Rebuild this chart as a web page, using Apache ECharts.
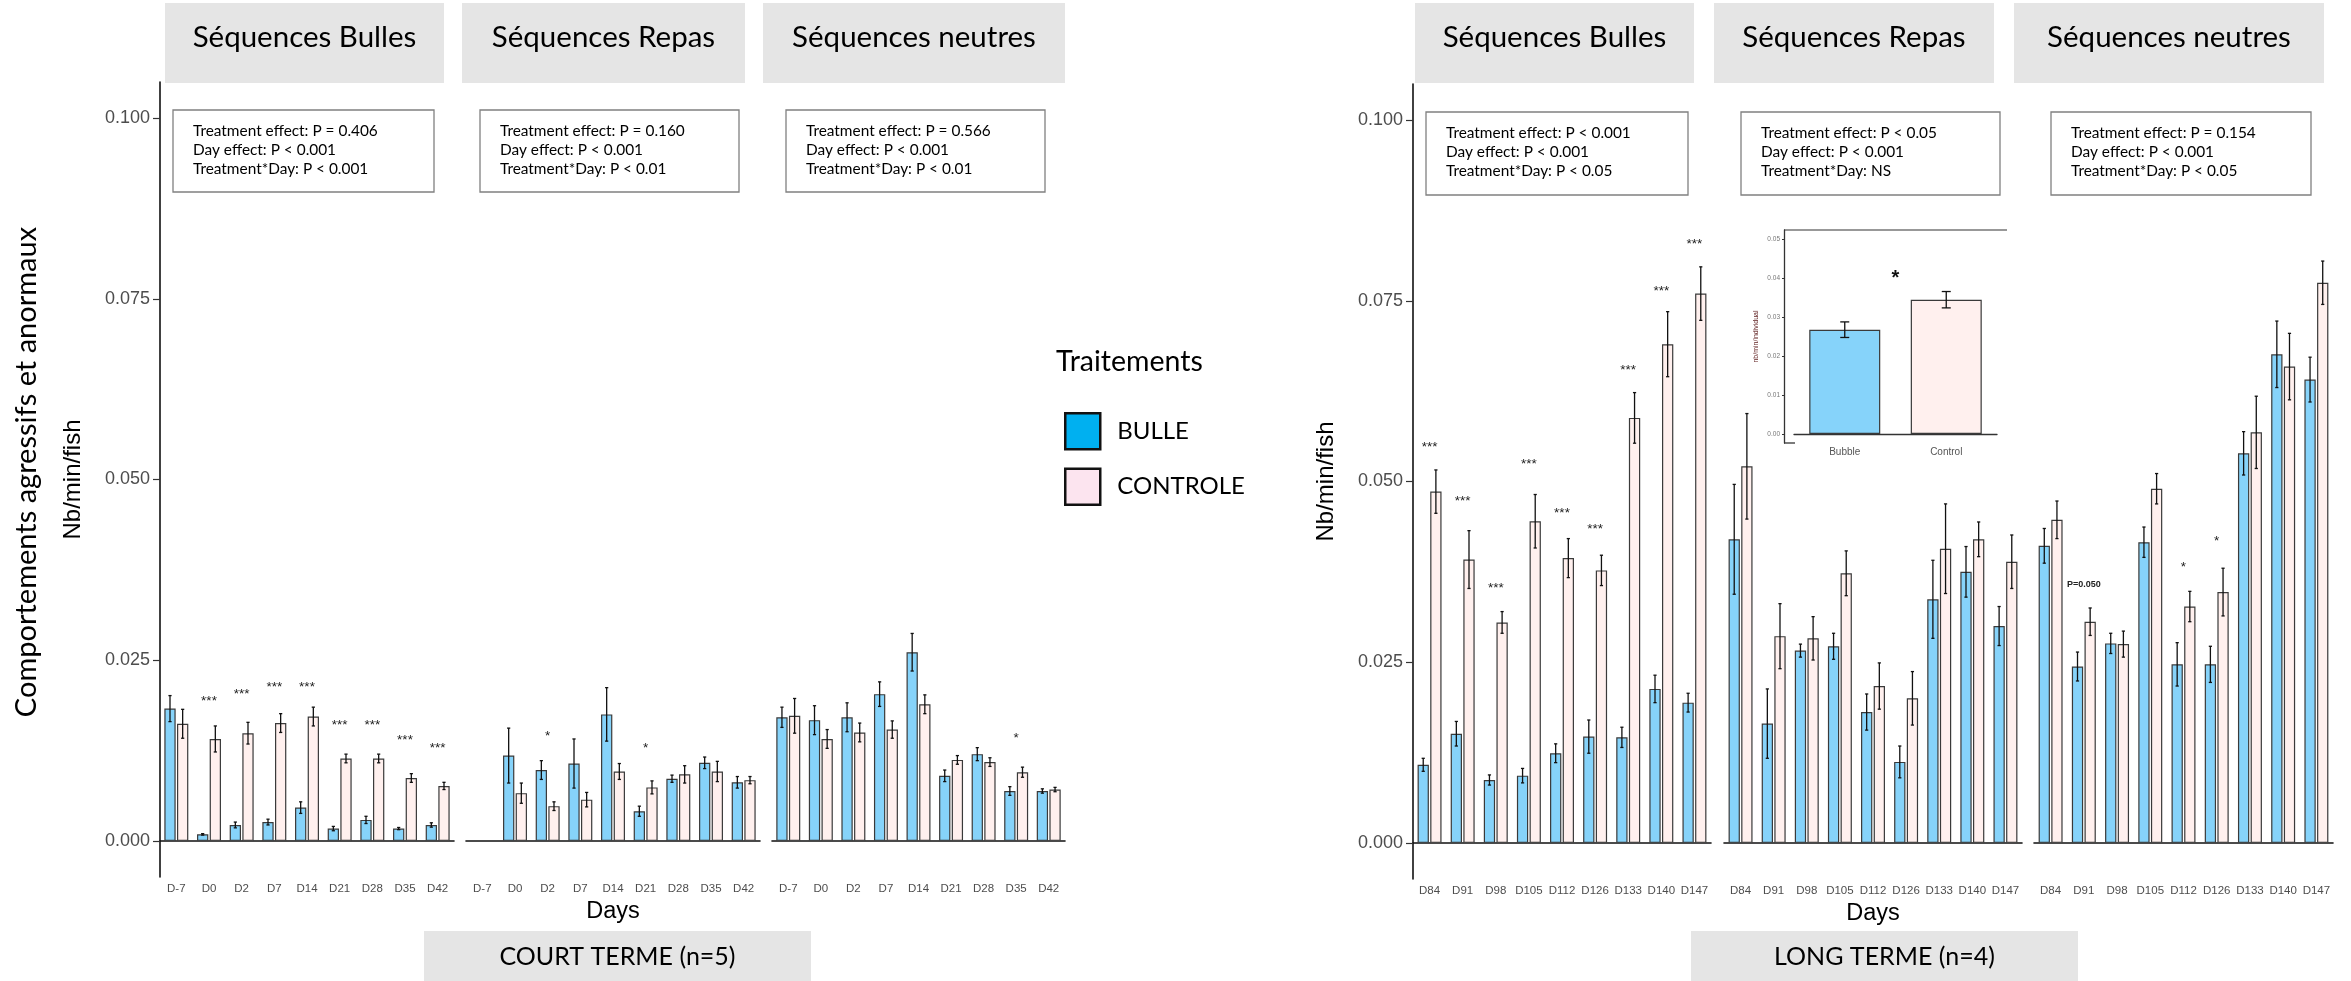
<!DOCTYPE html>
<html><head><meta charset="utf-8">
<script src="https://cdn.jsdelivr.net/npm/echarts@6/dist/echarts.min.js"></script>
<style>html,body{margin:0;padding:0;background:#fff}#c{width:2351px;height:981px}</style>
</head><body><div id="c"></div><script>
// ---- categories ----
const daysCT = ['D-7','D0','D2','D7','D14','D21','D28','D35','D42'];
const daysLT = ['D84','D91','D98','D105','D112','D126','D133','D140','D147'];
const yTicks = [0, 0.025, 0.05, 0.075, 0.1];

// ---- short term (n=5): Séquences Bulles ----
const ctBullesBulle   = [0.0183, 0.0009, 0.0022, 0.0026, 0.0046, 0.0017, 0.0029, 0.0017, 0.0022];
const ctBullesBulleSe = [0.0018, 0.0001, 0.0004, 0.0004, 0.0008, 0.0003, 0.0005, 0.00015, 0.0003];
const ctBullesCtrl    = [0.0162, 0.0141, 0.0149, 0.0163, 0.0172, 0.0114, 0.0114, 0.0087, 0.0076];
const ctBullesCtrlSe  = [0.0020, 0.0018, 0.0015, 0.0013, 0.0013, 0.0006, 0.0006, 0.0006, 0.0005];
const ctBullesSig     = ['', '***', '***', '***', '***', '***', '***', '***', '***'];
const ctBullesSigY    = [null, 0.0197, 0.0207, 0.0217, 0.0217, 0.0164, 0.0164, 0.0144, 0.0132];

// ---- short term: Séquences Repas ----
const ctRepasBulle   = [null, 0.0118, 0.0098, 0.0107, 0.0175, 0.0041, 0.0086, 0.0108, 0.0081];
const ctRepasBulleSe = [null, 0.0038, 0.0013, 0.0034, 0.0037, 0.0007, 0.0005, 0.0008, 0.0008];
const ctRepasCtrl    = [null, 0.0066, 0.0048, 0.0057, 0.0096, 0.0074, 0.0092, 0.0096, 0.0084];
const ctRepasCtrlSe  = [null, 0.0014, 0.0006, 0.0010, 0.0011, 0.0009, 0.0012, 0.0014, 0.0005];
const ctRepasSig     = ['', '', '*', '', '', '*', '', '', ''];
const ctRepasSigY    = [null, null, 0.0149, null, null, 0.0132, null, null, null];

// ---- short term: Séquences neutres ----
const ctNeutBulle   = [0.0171, 0.0167, 0.0171, 0.0203, 0.0261, 0.0090, 0.0120, 0.0069, 0.0069];
const ctNeutBulleSe = [0.0014, 0.0020, 0.0020, 0.0017, 0.0026, 0.0008, 0.0009, 0.0006, 0.0003];
const ctNeutCtrl    = [0.0173, 0.0141, 0.0150, 0.0154, 0.0189, 0.0112, 0.0109, 0.0095, 0.0071];
const ctNeutCtrlSe  = [0.0024, 0.0013, 0.0013, 0.0012, 0.0013, 0.0006, 0.0006, 0.0007, 0.0003];
const ctNeutSig     = ['', '', '', '', '', '', '', '*', ''];
const ctNeutSigY    = [null, null, null, null, null, null, null, 0.0146, null];

// ---- long term (n=4): Séquences Bulles ----
const ltBullesBulle   = [0.0108, 0.0151, 0.0087, 0.0093, 0.0124, 0.0147, 0.0146, 0.0213, 0.0194];
const ltBullesBulleSe = [0.0009, 0.0017, 0.0007, 0.0010, 0.0013, 0.0023, 0.0014, 0.0019, 0.0013];
const ltBullesCtrl    = [0.0486, 0.0392, 0.0305, 0.0445, 0.0394, 0.0377, 0.0588, 0.0690, 0.0760];
const ltBullesCtrlSe  = [0.0030, 0.0040, 0.0015, 0.0037, 0.0027, 0.0021, 0.0035, 0.0045, 0.0037];
const ltBullesSig     = ['***', '***', '***', '***', '***', '***', '***', '***', '***'];
const ltBullesSigY    = [0.0551, 0.0477, 0.0357, 0.0528, 0.0460, 0.0438, 0.0658, 0.0768, 0.0832];

// ---- long term: Séquences Repas ----
const ltRepasBulle   = [0.0420, 0.0165, 0.0266, 0.0272, 0.0181, 0.0112, 0.0337, 0.0375, 0.0300];
const ltRepasBulleSe = [0.0076, 0.0048, 0.0009, 0.0018, 0.0025, 0.0022, 0.0054, 0.0035, 0.0027];
const ltRepasCtrl    = [0.0521, 0.0286, 0.0283, 0.0373, 0.0217, 0.0200, 0.0407, 0.0420, 0.0389];
const ltRepasCtrlSe  = [0.0073, 0.0045, 0.0030, 0.0031, 0.0032, 0.0037, 0.0062, 0.0024, 0.0037];
const ltRepasSig     = ['', '', '', '', '', '', '', '', ''];
const ltRepasSigY    = [null, null, null, null, null, null, null, null, null];

// ---- long term: Séquences neutres ----
const ltNeutBulle   = [0.0411, 0.0244, 0.0276, 0.0416, 0.0247, 0.0247, 0.0539, 0.0676, 0.0641];
const ltNeutBulleSe = [0.0024, 0.0020, 0.0014, 0.0021, 0.0030, 0.0025, 0.0030, 0.0046, 0.0031];
const ltNeutCtrl    = [0.0447, 0.0306, 0.0275, 0.0490, 0.0327, 0.0347, 0.0568, 0.0659, 0.0775];
const ltNeutCtrlSe  = [0.0026, 0.0019, 0.0018, 0.0021, 0.0021, 0.0033, 0.0050, 0.0046, 0.0030];
const ltNeutSig     = ['', 'P=0.050', '', '', '*', '*', '', '', ''];
const ltNeutSigY    = [null, 0.0358, null, null, 0.0385, 0.0421, null, null, null];

// ---- inset: overall long-term repas effect ----
const insetCats  = ['Bubble', 'Control'];
const insetMeans = [0.0268, 0.0345];
const insetSe    = [0.0020, 0.0021];
const insetTicks = [0, 0.01, 0.02, 0.03, 0.04, 0.05];

// ---- statistics text ----
const statsCT = [
  ['Treatment effect: P = 0.406', 'Day effect: P < 0.001', 'Treatment*Day: P < 0.001'],
  ['Treatment effect: P = 0.160', 'Day effect: P < 0.001', 'Treatment*Day: P < 0.01'],
  ['Treatment effect: P = 0.566', 'Day effect: P < 0.001', 'Treatment*Day: P < 0.01']
];
const statsLT = [
  ['Treatment effect: P < 0.001', 'Day effect: P < 0.001', 'Treatment*Day: P < 0.05'],
  ['Treatment effect: P < 0.05', 'Day effect: P < 0.001', 'Treatment*Day: NS'],
  ['Treatment effect: P = 0.154', 'Day effect: P < 0.001', 'Treatment*Day: P < 0.05']
];
const stripTitles = ['Séquences Bulles', 'Séquences Repas', 'Séquences neutres'];

// ---- style ----
const BLUE = '#86d3fa', PINK = '#fff0ee', EDGE = '#3a3a3a';
const AX = 'Liberation Sans', TXT = 'Lato';
const BW = 11.3, GAP = 0.12, OFF = BW * (1 + GAP) / 2;

const facets = [
  {left:160,  width:294, top:82, days:daysCT, b:ctBullesBulle, bs:ctBullesBulleSe, c:ctBullesCtrl, cs:ctBullesCtrlSe, sig:ctBullesSig, sy:ctBullesSigY, showY:true},
  {left:466,  width:294, top:82, days:daysCT, b:ctRepasBulle,  bs:ctRepasBulleSe,  c:ctRepasCtrl,  cs:ctRepasCtrlSe,  sig:ctRepasSig,  sy:ctRepasSigY, name:'Days'},
  {left:772,  width:293, top:82, days:daysCT, b:ctNeutBulle,   bs:ctNeutBulleSe,   c:ctNeutCtrl,   cs:ctNeutCtrlSe,   sig:ctNeutSig,   sy:ctNeutSigY},
  {left:1413, width:298, top:84, days:daysLT, b:ltBullesBulle, bs:ltBullesBulleSe, c:ltBullesCtrl, cs:ltBullesCtrlSe, sig:ltBullesSig, sy:ltBullesSigY, showY:true},
  {left:1724, width:298, top:84, days:daysLT, b:ltRepasBulle,  bs:ltRepasBulleSe,  c:ltRepasCtrl,  cs:ltRepasCtrlSe,  sig:ltRepasSig,  sy:ltRepasSigY, name:'Days'},
  {left:2034, width:299, top:84, days:daysLT, b:ltNeutBulle,   bs:ltNeutBulleSe,   c:ltNeutCtrl,   cs:ltNeutCtrlSe,   sig:ltNeutSig,   sy:ltNeutSigY}
];

const grids = [], xAxes = [], yAxes = [], series = [];

// vertical error bar with small caps, shifted sideways by the dodge offset
function errRenderer(capHalf) {
  return function (params, api) {
    const i = api.value(0), m = api.value(1), se = api.value(2), s = api.value(3);
    const x = api.coord([i, m])[0] + s;
    const y1 = api.coord([i, m + se])[1], y2 = api.coord([i, m - se])[1];
    const st = {stroke:'#111', lineWidth:1.3};
    return {type:'group', children:[
      {type:'line', shape:{x1:x, y1:y1, x2:x, y2:y2}, style:st},
      {type:'line', shape:{x1:x-capHalf, y1:y1, x2:x+capHalf, y2:y1}, style:st},
      {type:'line', shape:{x1:x-capHalf, y1:y2, x2:x+capHalf, y2:y2}, style:st}
    ]};
  };
}

facets.forEach((f, k) => {
  grids.push({left:f.left, top:f.top, width:f.width, height:795});
  xAxes.push({
    type:'category', gridIndex:k, data:f.days,
    name: f.name || '', nameLocation:'middle', nameGap:22,
    nameTextStyle:{fontFamily:AX, fontSize:23.5, color:'#000'},
    axisLine:{lineStyle:{color:'#111', width:1.6}},
    axisTick:{alignWithLabel:true, length:5, lineStyle:{color:'#333', width:1.2}},
    axisLabel:{interval:0, margin:6, fontFamily:AX, fontSize:11.5, color:'#4d4d4d'}
  });
  yAxes.push({
    type:'value', gridIndex:k, min:-0.005, max:0.105, show:!!f.showY,
    name:'Nb/min/fish', nameLocation:'middle', nameGap:75, nameRotate:90,
    nameTextStyle:{fontFamily:AX, fontSize:24, color:'#000'},
    axisLine:{show:true, lineStyle:{color:'#111', width:1.6}},
    axisTick:{show:true, length:7, customValues:yTicks, lineStyle:{color:'#333', width:1.2}},
    axisLabel:{customValues:yTicks, margin:10, fontFamily:AX, fontSize:18, color:'#4d4d4d',
               formatter:v => v.toFixed(3)},
    splitLine:{show:false}
  });
  const barBase = {type:'bar', xAxisIndex:k, yAxisIndex:k, barWidth:BW, barGap:(GAP*100)+'%', z:2};
  series.push(Object.assign({}, barBase, {name:'BULLE', data:f.b,
    itemStyle:{color:BLUE, borderColor:EDGE, borderWidth:1.2}}));
  series.push(Object.assign({}, barBase, {name:'CONTROLE', data:f.c,
    itemStyle:{color:PINK, borderColor:EDGE, borderWidth:1.2}}));
  const err = [];
  f.b.forEach((m, i) => { if (m != null) err.push([i, m, f.bs[i], -OFF]); });
  f.c.forEach((m, i) => { if (m != null) err.push([i, m, f.cs[i], OFF]); });
  series.push({type:'custom', xAxisIndex:k, yAxisIndex:k, z:5, silent:true, data:err, renderItem:errRenderer(1.6)});
  const sigData = [];
  f.sig.forEach((t, i) => { if (t) sigData.push([i, f.sy[i]]); });
  const labels = f.sig;
  series.push({type:'custom', xAxisIndex:k, yAxisIndex:k, z:6, silent:true, data:sigData,
    renderItem:(p, api) => {
      const i = api.value(0), c = api.coord([i, api.value(1)]), t = labels[i];
      const isP = t.charAt(0) === 'P';
      return {type:'text', x:c[0], y:c[1] + (isP ? 0 : 3), style:{text:t, fontFamily:AX,
        fontSize:isP ? 9 : 13.5, fontWeight:isP ? 'bold' : 'normal', fill:'#222',
        align:'center', verticalAlign:'middle'}};
    }});
});

// ---- inset panel ----
const IN = 6;
grids.push({left:1794, top:230, width:203, height:213, show:true, backgroundColor:'#fff', borderWidth:0, z:8});
xAxes.push({type:'category', gridIndex:IN, data:insetCats, z:9,
  axisLine:{lineStyle:{color:'#333', width:1.3}},
  axisTick:{alignWithLabel:true, length:3, lineStyle:{color:'#333'}},
  axisLabel:{interval:0, margin:4, fontFamily:AX, fontSize:10, color:'#555'}});
yAxes.push({type:'value', gridIndex:IN, min:-0.0023, max:0.0524, offset:10, z:9,
  name:'nb/min/individual', nameLocation:'middle', nameGap:24, nameRotate:90,
  nameTextStyle:{fontFamily:AX, fontSize:7, color:'#5b1a1a'},
  axisLine:{show:true, lineStyle:{color:'#333', width:1.3}},
  axisTick:{show:true, customValues:insetTicks, length:2, lineStyle:{color:'#333'}},
  axisLabel:{customValues:insetTicks, formatter:v => v.toFixed(2), margin:4,
             fontFamily:AX, fontSize:6.5, color:'#777'},
  splitLine:{show:false}});
series.push({type:'bar', xAxisIndex:IN, yAxisIndex:IN, barWidth:71, z:10, silent:true,
  data:insetMeans.map((m, i) => ({value:m, itemStyle:{color:i === 0 ? BLUE : PINK, borderColor:EDGE, borderWidth:1.2}}))});
series.push({type:'custom', xAxisIndex:IN, yAxisIndex:IN, z:11, silent:true,
  data:insetMeans.map((m, i) => [i, m, insetSe[i], 0]), renderItem:errRenderer(4.5)});
series.push({type:'custom', xAxisIndex:IN, yAxisIndex:IN, z:11, silent:true, data:[[0, 0.041]],
  renderItem:(p, api) => {
    const c = api.coord([api.value(0), api.value(1)]);
    const band = api.size([1, 0])[0];
    return {type:'text', x:c[0] + band / 2, y:c[1] + 4, style:{text:'*', fontFamily:AX, fontSize:20, fontWeight:'bold',
      fill:'#111', align:'center', verticalAlign:'middle'}};
  }});

// ---- decorations: strips, stats boxes, titles ----
const graphic = [];
function strip(x1, x2, title) {
  graphic.push({type:'rect', shape:{x:x1, y:3, width:x2 - x1, height:80}, style:{fill:'#e5e5e5'}, z:20});
  graphic.push({type:'text', x:(x1 + x2) / 2, y:37, style:{text:title, fontFamily:TXT, fontSize:29.5,
    fill:'#000', align:'center', verticalAlign:'middle'}, z:21});
}
[[165, 444], [462, 745], [763, 1065]].forEach((s, i) => strip(s[0], s[1], stripTitles[i]));
[[1415, 1694], [1714, 1994], [2014, 2324]].forEach((s, i) => strip(s[0], s[1], stripTitles[i]));

function statBox(x1, x2, y1, y2, lines) {
  graphic.push({type:'rect', shape:{x:x1, y:y1, width:x2 - x1, height:y2 - y1},
    style:{fill:'#fff', stroke:'#808080', lineWidth:1.3}, z:20});
  lines.forEach((t, j) => graphic.push({type:'text', x:x1 + 20, y:y1 + 21 + j * 19,
    style:{text:t, fontFamily:TXT, fontSize:15.4, fill:'#000', align:'left', verticalAlign:'middle'}, z:21}));
}
[[173, 434], [480, 739], [786, 1045]].forEach((b, i) => statBox(b[0], b[1], 110, 192, statsCT[i]));
[[1426, 1688], [1741, 2000], [2051, 2311]].forEach((b, i) => statBox(b[0], b[1], 112, 195, statsLT[i]));

graphic.push({type:'text', x:27, y:472, rotation:Math.PI / 2,
  style:{text:'Comportements agressifs et anormaux', fontFamily:TXT, fontSize:29, fill:'#000',
  align:'center', verticalAlign:'middle'}, z:21});
graphic.push({type:'text', x:1056, y:362, style:{text:'Traitements', fontFamily:TXT, fontSize:28.5,
  fill:'#000', align:'left', verticalAlign:'middle'}, z:21});

function footer(x1, x2, t) {
  graphic.push({type:'rect', shape:{x:x1, y:931, width:x2 - x1, height:50}, style:{fill:'#e5e5e5'}, z:20});
  graphic.push({type:'text', x:(x1 + x2) / 2, y:957, style:{text:t, fontFamily:TXT, fontSize:25,
    fill:'#000', align:'center', verticalAlign:'middle'}, z:21});
}
footer(424, 811, 'COURT TERME (n=5)');
footer(1691, 2078, 'LONG TERME (n=4)');

// inset frame: top edge and the short run of x axis left of the first band
graphic.push({type:'line', shape:{x1:1784, y1:230, x2:2007, y2:230}, style:{stroke:'#333', lineWidth:1.2}, z:30});
graphic.push({type:'line', shape:{x1:1784, y1:443, x2:1795, y2:443}, style:{stroke:'#333', lineWidth:1.3}, z:30});

const chart = echarts.init(document.getElementById('c'), null, {renderer:'canvas', width:2351, height:981});
chart.setOption({
  animation:false,
  backgroundColor:'#fff',
  grid:grids, xAxis:xAxes, yAxis:yAxes, series:series, graphic:graphic,
  legend:{
    selectedMode:false, orient:'vertical', left:1059, top:407, itemWidth:35, itemHeight:36, itemGap:17,
    icon:'rect', textStyle:{fontFamily:TXT, fontSize:24, color:'#000', padding:[0, 0, 0, 12]},
    data:[
      {name:'BULLE', itemStyle:{color:'#00b0f0', borderColor:'#111', borderWidth:2.5}},
      {name:'CONTROLE', itemStyle:{color:'#fce4ef', borderColor:'#111', borderWidth:2.5}}
    ]
  }
});
</script></body></html>
